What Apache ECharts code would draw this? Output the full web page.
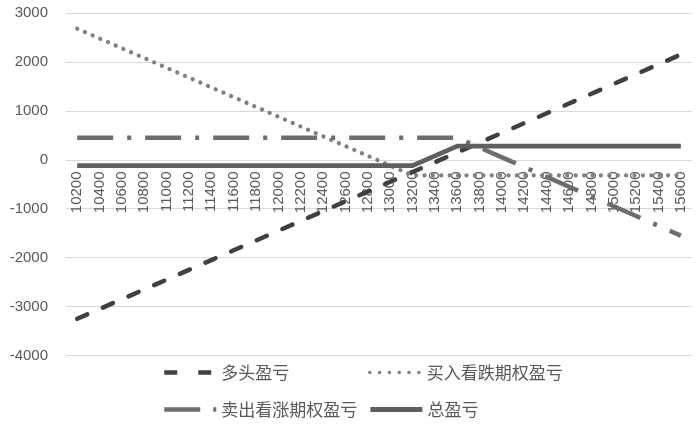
<!DOCTYPE html>
<html><head><meta charset="utf-8">
<script src="https://cdn.jsdelivr.net/npm/echarts@6/dist/echarts.min.js"></script>
<style>html,body{margin:0;padding:0;background:#fff}#c{width:699px;height:426px}</style>
</head><body><div id="c"></div>
<script>
var categories = ['10200','10400','10600','10800','11000','11200','11400','11600','11800','12000','12200','12400','12600','12800','13000','13200','13400','13600','13800','14000','14200','14400','14600','14800','15000','15200','15400','15600'];
var futuresPL = [-3250,-3050,-2850,-2650,-2450,-2250,-2050,-1850,-1650,-1450,-1250,-1050,-850,-650,-450,-250,-50,150,350,550,750,950,1150,1350,1550,1750,1950,2150];
var longPutPL = [2680,2480,2280,2080,1880,1680,1480,1280,1080,880,680,480,280,80,-120,-320,-320,-320,-320,-320,-320,-320,-320,-320,-320,-320,-320,-320];
var shortCallPL = [450,450,450,450,450,450,450,450,450,450,450,450,450,450,450,450,450,450,250,50,-150,-350,-550,-750,-950,-1150,-1350,-1550];
var totalPL = [-120,-120,-120,-120,-120,-120,-120,-120,-120,-120,-120,-120,-120,-120,-120,-120,80,280,280,280,280,280,280,280,280,280,280,280];
var yTicks = {min: -4000, max: 3000, interval: 1000};
var names = ['多头盈亏','买入看跌期权盈亏','卖出看涨期权盈亏','总盈亏'];

var fontFam = '"Liberation Sans", Arial, sans-serif';
var cjk = '"Noto Sans CJK SC", sans-serif';
var styles = [
  {color:'#404040', width:4.5, type:[11,17], cap:'round'},
  {color:'#808080', width:4.2, type:[0.1,8.3], cap:'round'},
  {color:'#6d6d6d', width:4.5, type:[36,14,4,14], cap:'butt'},
  {color:'#5f5f5f', width:4.8, type:'solid', cap:'butt'}
];
var dataSets = [futuresPL, longPutPL, shortCallPL, totalPL];
var legendPos = [[157,359],[363,359],[157,396],[363,396]];
var legendLine = [
  {type:[13,21], cap:'butt', width:4.5},
  {type:[0.1,9.7], cap:'round', width:3.5},
  {type:[36,13,3,14], cap:'butt', width:4.5},
  {type:'solid', cap:'butt', width:4.8}
];

var option = {
  animation: false,
  backgroundColor: '#fff',
  grid: {left: 66, right: 7, top: 13, bottom: 70.5, containLabel: false},
  xAxis: {
    type: 'category', data: categories, boundaryGap: true,
    position: 'bottom', offset: -196,
    axisLine: {show: false, onZero: false},
    axisTick: {show: false},
    axisLabel: {rotate: 90, interval: 0, margin: 12, color: '#595959', fontSize: 15, fontFamily: fontFam},
    splitLine: {show: false}
  },
  yAxis: {
    type: 'value', min: yTicks.min, max: yTicks.max, interval: yTicks.interval,
    axisLine: {show: false}, axisTick: {show: false},
    axisLabel: {margin: 18, color: '#595959', fontSize: 15, fontFamily: fontFam, formatter: function(v){ return String(v); }},
    splitLine: {lineStyle: {color: '#d9d9d9', width: 1}}
  },
  legend: names.map(function(n, i){
    return {
      left: legendPos[i][0], top: legendPos[i][1], orient: 'horizontal',
      itemWidth: 52, itemHeight: 14, itemGap: 0,
      textStyle: {color: '#595959', fontSize: 17, fontFamily: cjk},
      data: [{name: n, itemStyle: {opacity: 0}, lineStyle: {color: styles[i].color, width: legendLine[i].width, type: legendLine[i].type, cap: legendLine[i].cap}}],
      selectedMode: false
    };
  }),
  series: names.map(function(n, i){
    return {
      name: n, type: 'line', data: dataSets[i], symbol: 'none',
      lineStyle: {color: styles[i].color, width: styles[i].width, type: styles[i].type, cap: styles[i].cap},
      itemStyle: {color: styles[i].color}
    };
  })
};
var chart = echarts.init(document.getElementById('c'), null, {renderer: 'canvas'});
chart.setOption(option);
</script></body></html>
